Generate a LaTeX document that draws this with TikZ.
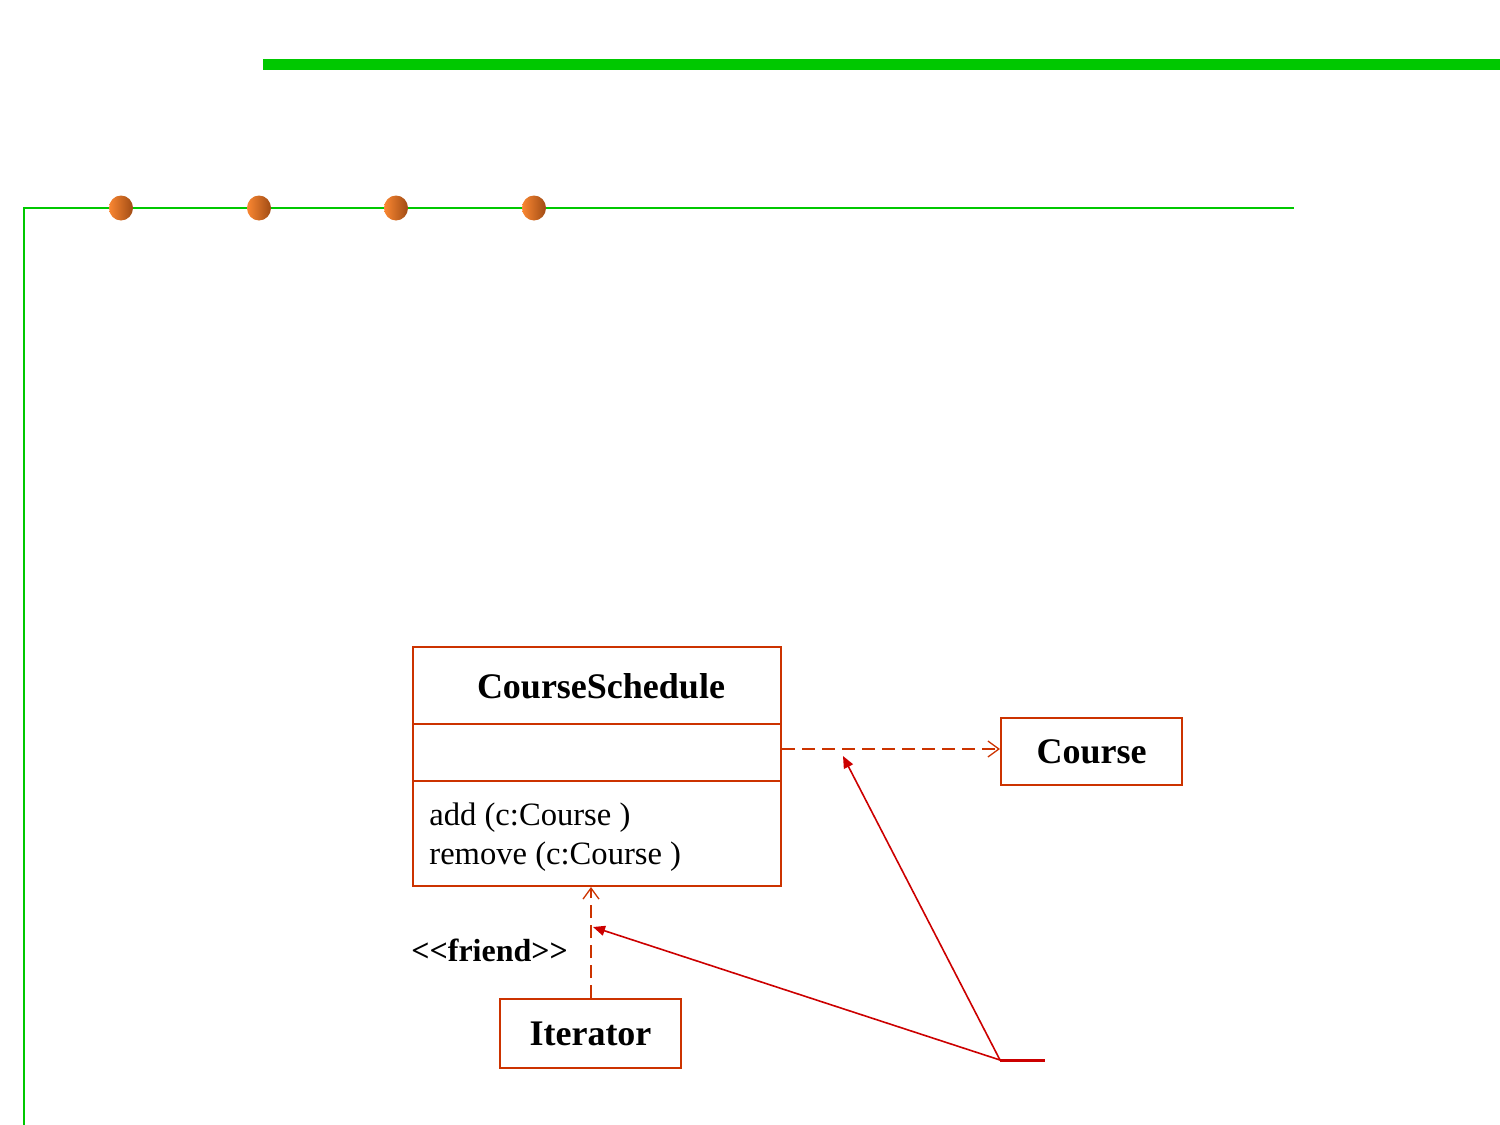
\documentclass[tikz,border=0pt]{standalone}
\usepackage{fontspec}
\setmainfont{Liberation Serif}
\usetikzlibrary{arrows.meta}
\definecolor{gbar}{RGB}{0,200,0}
\definecolor{umlred}{RGB}{204,51,0}
\definecolor{annred}{RGB}{204,0,0}
\definecolor{ballA}{RGB}{250,135,50}
\definecolor{ballB}{RGB}{160,75,20}
\tikzset{
  umlbox/.style={draw=umlred, line width=1pt, rectangle, inner sep=0pt},
  clsname/.style={font=\fontsize{18}{21}\selectfont\bfseries},
  opsfont/.style={font=\fontsize{16.3}{19.5}\selectfont, align=left, inner sep=0pt},
  depline/.style={draw=umlred, line width=0.65pt, dash pattern=on 6.5pt off 3.5pt, -{Straight Barb[length=5.5pt,width=8pt]}},
  annline/.style={draw=annred, line width=0.8pt, -{Triangle[length=6pt,width=5pt]}},
  greenthin/.style={draw=gbar, line width=0.8pt},
}
\begin{document}
\begin{tikzpicture}[x=0.5pt,y=-0.5pt]
\useasboundingbox (0,0) rectangle (1500,1125);
% green decorations
\fill[gbar] (263,58.5) rectangle (1500,69.5);
\draw[greenthin] (24,1125) -- (24,208) -- (1294,208);
\foreach \bx in {121,259,396,534}{
  \shade[left color=ballA, right color=ballB] (\bx,208) ellipse [x radius=12, y radius=12.5];
}
% CourseSchedule class
\node[umlbox, minimum width=184pt, minimum height=119.5pt] (cs) at (597,766.5) {};
\node[clsname] (csname) at (601,686) {CourseSchedule};
\draw[umlred, line width=0.7pt] (cs.west |- 0,724) -- (cs.east |- 0,724);
\draw[umlred, line width=0.7pt] (cs.west |- 0,781) -- (cs.east |- 0,781);
\node[opsfont, anchor=north west] (ops) at (429,802) {add (c:Course )\\remove (c:Course )};
% Course class
\node[umlbox, minimum width=90.5pt, minimum height=33.5pt, clsname] (course) at (1091.5,751.5) {Course};
% Iterator class
\node[umlbox, minimum width=90.5pt, minimum height=34.5pt, clsname] (iter) at (590.5,1033.5) {Iterator};
% stereotype label
\node[font=\fontsize{16}{19}\selectfont\bfseries, anchor=west, inner sep=0pt] (friend) at (411,950) {<{}<friend>{}>};
% dependencies
\path[depline] (cs.east |- 0,749) -- (course.west |- 0,749);
\path[depline] (iter.north -| 591,0) -- (cs.south -| 591,0);
% annotation lines
\coordinate (ann) at (1000,1060);
\coordinate (annend) at (1045,1060);
\coordinate (tipA) at (843,756);
\coordinate (tipB) at (593,927);
\draw[annred, line width=1.5pt] (ann) -- (annend);
\path[annline] (ann) -- (tipA);
\path[annline] (ann) -- (tipB);
\end{tikzpicture}
\end{document}
